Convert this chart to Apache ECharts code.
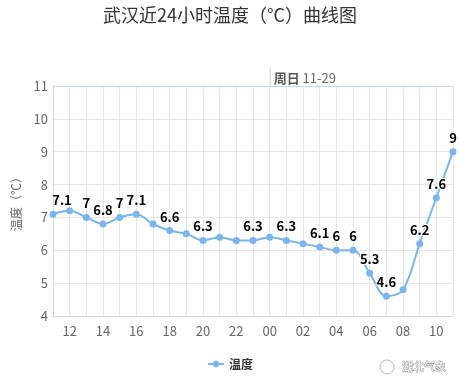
<!DOCTYPE html>
<html>
<head>
<meta charset="utf-8">
<script src="https://cdn.jsdelivr.net/npm/echarts@6/dist/echarts.min.js"></script>
<style>html,body{margin:0;padding:0;background:#fff;}#c{width:460px;height:391px;}</style>
</head>
<body>
<div id="c"></div>
<script>
const hours = ['11','12','13','14','15','16','17','18','19','20','21','22','23','00','01','02','03','04','05','06','07','08','09','10','11'];
const temps = [7.1,7.2,7.0,6.8,7.0,7.1,6.8,6.6,6.5,6.3,6.4,6.3,6.3,6.4,6.3,6.2,6.1,6.0,6.0,5.3,4.6,4.8,6.2,7.6,9.0];
const labelShown = [1,0,1,1,1,1,0,1,0,1,0,0,1,0,1,0,1,1,1,1,1,0,1,1,1];
const yTicks = [4,5,6,7,8,9,10,11];
const dayMark = '00';
const dayText = ['周日', '11-29'];

const FONT = '"Noto Sans CJK SC", "Noto Sans", sans-serif';
const chart = echarts.init(document.getElementById('c'), null, {renderer: 'canvas'});

const seriesData = temps.map((v, i) => {
  const item = {value: v};
  if (!labelShown[i]) item.label = {show: false};
  if (i === 0) item.label = {offset: [9, 0]};
  return item;
});

chart.setOption({
  animation: false,
  backgroundColor: '#fff',
  textStyle: {fontFamily: FONT},
  title: {
    text: '武汉近24小时温度（°C）曲线图',
    left: 'center', top: 6, padding: 0,
    textStyle: {fontSize: 18, fontWeight: 'normal', color: '#333333', fontFamily: FONT}
  },
  legend: {
    bottom: 16, left: 'center',
    itemWidth: 16, itemHeight: 8, itemGap: 5,
    textStyle: {fontSize: 12, fontWeight: 'bold', color: '#333333', fontFamily: FONT},
    data: ['温度']
  },
  grid: {left: 53, right: 7, top: 86, bottom: 75, show: true, borderColor: '#ccd6eb', borderWidth: 0},
  xAxis: {
    type: 'category', data: hours, boundaryGap: false,
    axisLine: {show: true, lineStyle: {color: '#ccd6eb', width: 1}},
    axisTick: {show: false},
    splitLine: {show: true, interval: 0, lineStyle: {color: '#e6e6e6'}},
    axisLabel: {
      interval: (i) => i % 2 === 1,
      color: '#666666', fontSize: 13, margin: 9, fontFamily: FONT
    }
  },
  yAxis: {
    type: 'value', min: yTicks[0], max: yTicks[yTicks.length - 1], interval: 1,
    name: '温度（℃）', nameLocation: 'middle', nameGap: 27, nameRotate: 90,
    nameTextStyle: {color: '#666666', fontSize: 12, fontFamily: FONT},
    axisLine: {show: true, lineStyle: {color: '#ccd6eb'}},
    axisTick: {show: false},
    splitLine: {show: true, lineStyle: {color: '#e6e6e6'}},
    axisLabel: {color: '#666666', fontSize: 13, margin: 5, fontFamily: FONT}
  },
  series: [{
    name: '温度', type: 'line', data: seriesData,
    smooth: 0.35,
    symbol: 'circle', symbolSize: 7,
    lineStyle: {color: '#7cb5ec', width: 2},
    itemStyle: {color: '#7cb5ec'},
    label: {
      show: true, position: 'top', distance: 4,
      color: '#000', fontSize: 13, fontWeight: 'bold', fontFamily: FONT,
      textBorderColor: '#fff', textBorderWidth: 2
    }
  }]
});

// top border + day marker, positioned via the chart's own scales
const x0 = chart.convertToPixel({xAxisIndex: 0}, dayMark);
const yTop = chart.convertToPixel({yAxisIndex: 0}, yTicks[yTicks.length - 1]);
const xL = chart.convertToPixel({xAxisIndex: 0}, 0);
const xR = chart.convertToPixel({xAxisIndex: 0}, hours.length - 1);
chart.setOption({
  graphic: [
    {type: 'line', shape: {x1: xL, y1: yTop + 0.5, x2: xR, y2: yTop + 0.5}, style: {stroke: '#ccd6eb', lineWidth: 1}, z: 10},
    {type: 'line', shape: {x1: x0 + 0.5, y1: yTop - 18, x2: x0 + 0.5, y2: yTop}, style: {stroke: '#d0d0d0', lineWidth: 1}},
    {type: 'text', x: x0 + 4, y: yTop - 8,
      style: {text: '{b|' + dayText[0] + '} ' + dayText[1], fill: '#666666', font: '13px ' + FONT, verticalAlign: 'middle',
        rich: {b: {fontWeight: 'bold', fontSize: 13, fill: '#555', fontFamily: FONT}}}},
    {type: 'circle', shape: {cx: 387, cy: 367, r: 7}, style: {fill: '#fff', stroke: '#bbb', lineWidth: 1}},
    {type: 'text', x: 402, y: 367,
      style: {text: '湖北气象', fill: '#fff', stroke: '#999', lineWidth: 1, font: '11px ' + FONT, verticalAlign: 'middle'}}
  ]
});
</script>
</body>
</html>
